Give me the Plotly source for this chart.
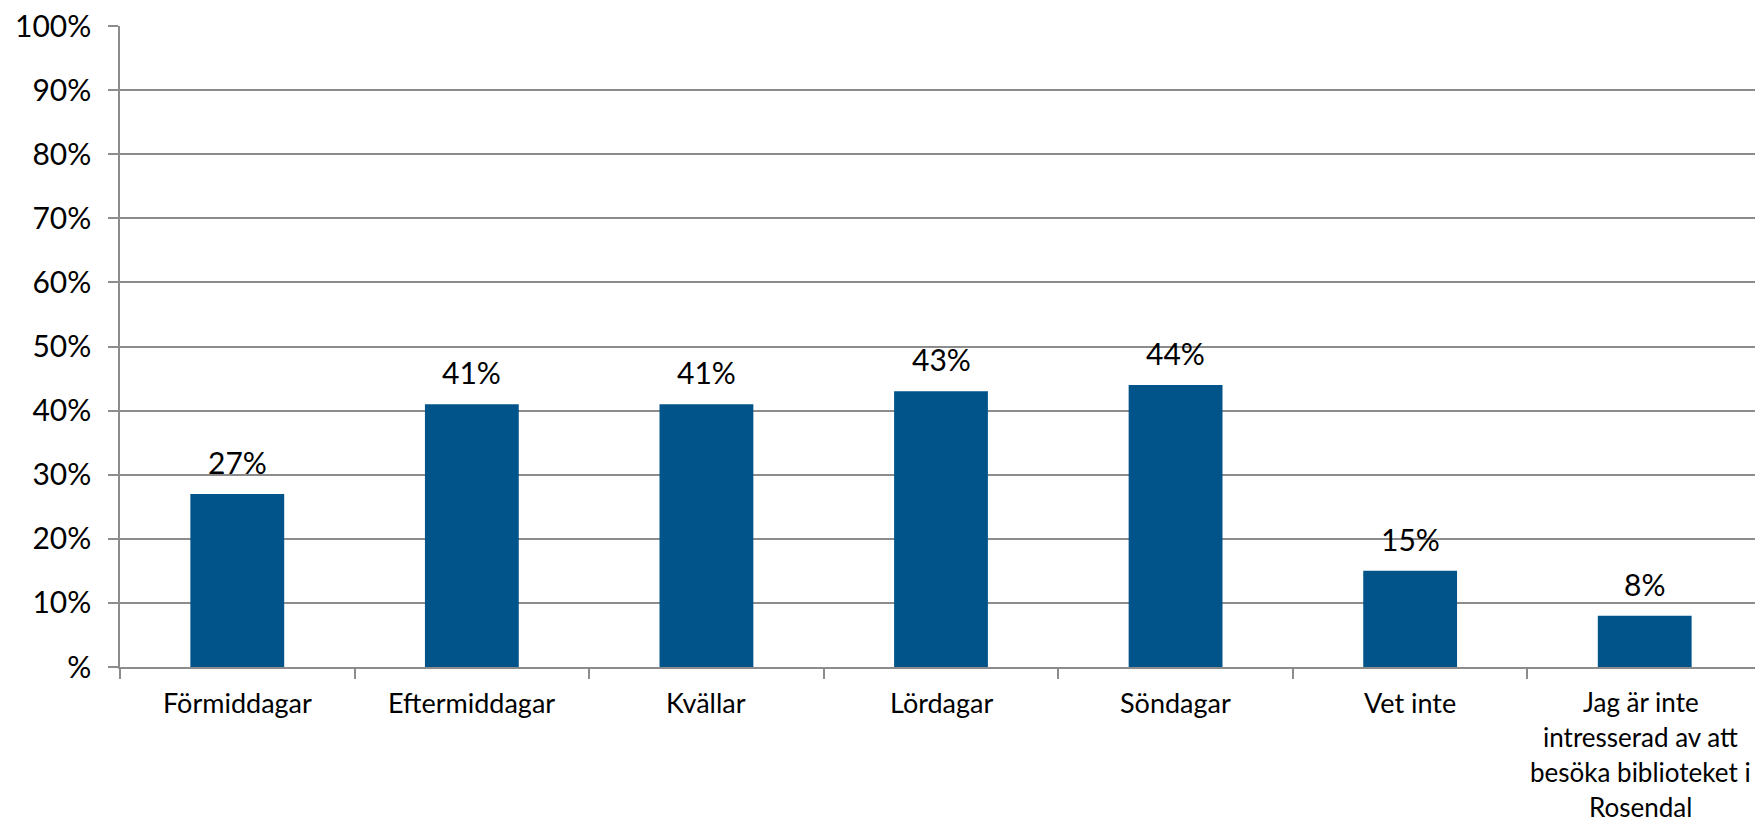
import plotly.graph_objects as go

categories = ["Förmiddagar", "Eftermiddagar", "Kvällar", "Lördagar", "Söndagar", "Vet inte",
              "Jag är inte<br>intresserad av att<br>besöka biblioteket i<br>Rosendal"]
values = [0.27, 0.41, 0.41, 0.43, 0.44, 0.15, 0.08]
labels = ["27%", "41%", "41%", "43%", "44%", "15%", "8%"]
y_tickvals = [0, 0.1, 0.2, 0.3, 0.4, 0.5, 0.6, 0.7, 0.8, 0.9, 1.0]
y_ticktext = ["%", "10%", "20%", "30%", "40%", "50%", "60%", "70%", "80%", "90%", "100%"]

FONT = "Lato"
FS = 30
FSX = 27
FSX_MULTI = 26
LINE_GAP = 35
GRID = "#8c8c8c"

fig = go.Figure()
fig.add_trace(go.Bar(x=categories, y=values, marker=dict(color="#01548a", line=dict(width=0)),
                     width=0.4, hoverinfo="skip"))

for c, v, t in zip(categories, values, labels):
    fig.add_annotation(x=c, y=v, text=t, showarrow=False, yanchor="middle", yshift=32,
                       font=dict(family=FONT, size=FS, color="#000000"))

# category labels under each category, one annotation per text line
for c in categories:
    lines = c.split("<br>")
    multi = len(lines) > 1
    for i, line in enumerate(lines):
        fig.add_annotation(x=c, y=0, yref="y", text=line, showarrow=False,
                           yanchor="top", yshift=-17 - i * LINE_GAP,
                           xshift=-4 if multi else 0, align="center",
                           font=dict(family=FONT, size=FSX_MULTI if multi else FSX, color="#000000"))

fig.update_layout(
    width=1755, height=814,
    margin=dict(l=112, r=1, t=18, b=155, autoexpand=False),
    paper_bgcolor="white", plot_bgcolor="white",
    showlegend=False,
    font=dict(family=FONT, size=FS, color="#000000"),
    bargap=0.6,
)
fig.update_xaxes(
    type="category", showline=True, linecolor=GRID, linewidth=1.5,
    ticks="outside", tickson="boundaries", ticklen=10, tickcolor=GRID, tickwidth=1.5,
    showgrid=False, showticklabels=False, automargin=False,
)
fig.update_yaxes(
    range=[0, 1], tickvals=y_tickvals, ticktext=y_ticktext,
    showgrid=True, gridcolor=GRID, gridwidth=1.5,
    showline=True, linecolor=GRID, linewidth=1.5,
    ticks="outside", ticklen=10, tickcolor=GRID, tickwidth=1.5,
    ticklabelstandoff=11, zeroline=False, automargin=False, ticklabeloverflow="allow",
    tickfont=dict(family=FONT, size=FS, color="#000000"),
)

fig.write_html("out.html")
